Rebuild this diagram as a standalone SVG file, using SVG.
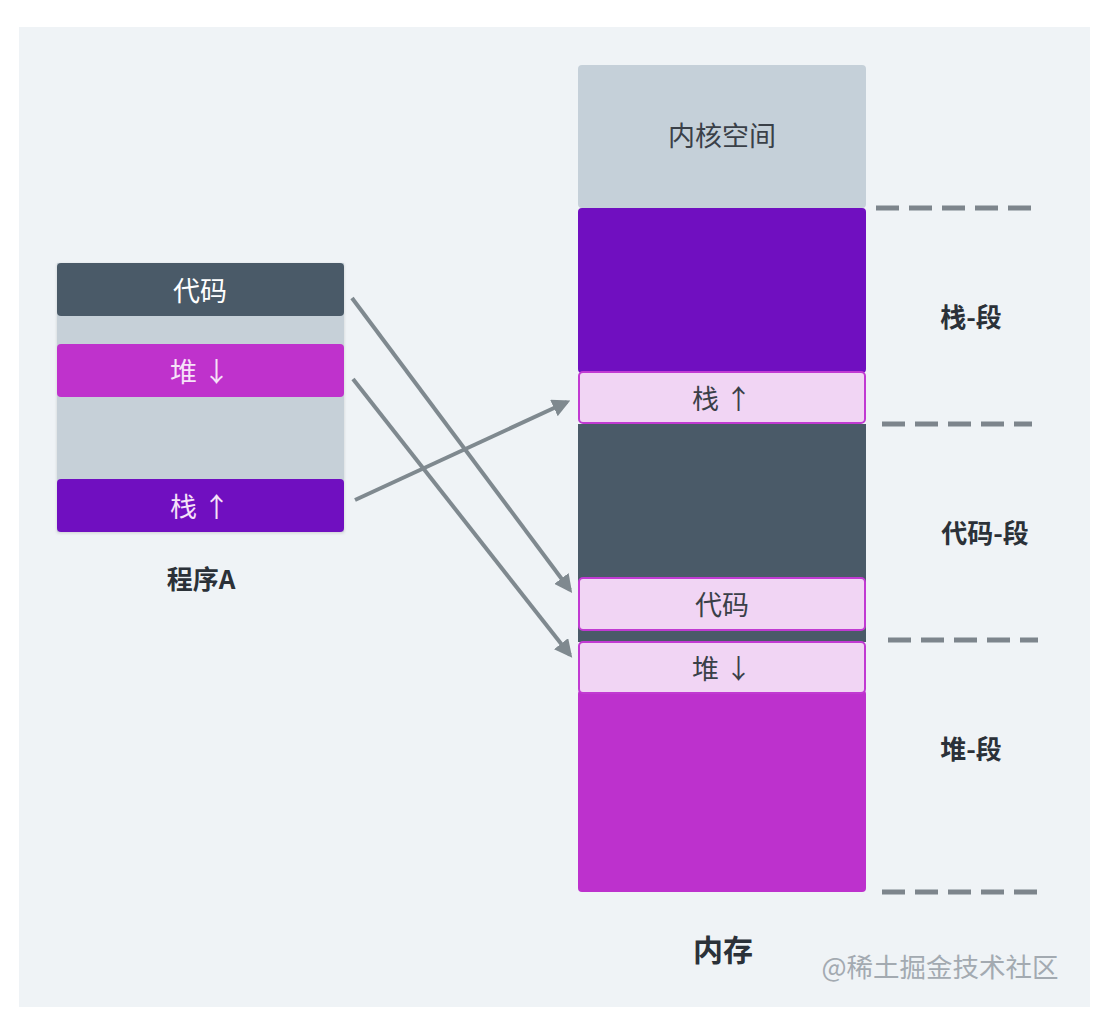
<svg xmlns="http://www.w3.org/2000/svg" width="1102" height="1031" viewBox="0 0 1102 1031">
<style>
text{font-family:"Noto Sans CJK SC","Noto Sans",sans-serif;text-anchor:middle;dominant-baseline:central}
.w{fill:#ffffff;font-size:27px}
.p{fill:#f6e2f8;font-size:27px}
.d{fill:#3a4048;font-size:27px}
.b{fill:#2b3138;font-size:26px;font-weight:bold}
.light{fill:#f1d5f4;stroke:#c13ad2;stroke-width:2}
.dash{stroke:#7d858c;stroke-width:5;stroke-dasharray:23 10;fill:none}
.conn{stroke:#7f898f;stroke-width:4;fill:none}
</style>
<defs>
<marker id="ah" viewBox="0 0 10 10" refX="8" refY="5" markerWidth="4.5" markerHeight="4.5" orient="auto" markerUnits="strokeWidth">
<path d="M0,0 L10,5 L0,10 z" fill="#7f898f"/>
</marker>
<filter id="sh" x="-5%" y="-5%" width="110%" height="115%">
<feDropShadow dx="0" dy="1" stdDeviation="1.5" flood-color="#000" flood-opacity="0.15"/>
</filter>
</defs>
<rect x="0" y="0" width="1102" height="1031" fill="#ffffff"/>
<rect x="19" y="27" width="1071" height="980" fill="#eff3f6"/>

<g id="programA">
<rect x="57" y="263" width="287" height="269" fill="#c6d0d8" filter="url(#sh)"/>
<g id="a-code"><rect x="57" y="263" width="287" height="53" rx="4" fill="#4a5a68"/><text class="w" x="200" y="289">代码</text></g>
<g id="a-heap"><rect x="57" y="344" width="287" height="53" rx="4" fill="#bf32cc"/><text class="p" x="200" y="370">堆 ↓</text></g>
<g id="a-stack"><rect x="57" y="479" width="287" height="53" rx="4" fill="#700fc0"/><text class="p" x="200" y="505">栈 ↑</text></g>
<text class="b" x="201" y="577">程序A</text>
</g>

<g id="memory">
<g id="kernel"><rect x="578" y="65" width="288" height="143" rx="4" fill="#c5d0d9"/><text class="d" x="722" y="134">内核空间</text></g>
<g id="stack-seg"><rect x="578" y="208" width="288" height="165" rx="4" fill="#700fc0"/></g>
<g id="m-stack"><rect class="light" x="579" y="372" width="286" height="51" rx="4"/><text class="d" x="722" y="397">栈 ↑</text></g>
<g id="code-seg"><rect x="578" y="424" width="288" height="218" fill="#4a5a68"/></g>
<g id="m-code"><rect class="light" x="579" y="578" width="286" height="52" rx="4"/><text class="d" x="722" y="603">代码</text></g>
<g id="heap-seg"><rect x="578" y="690" width="288" height="202" rx="4" fill="#bd31cd"/></g>
<g id="m-heap"><rect class="light" x="579" y="642" width="286" height="51" rx="4"/><text class="d" x="722" y="667">堆 ↓</text></g>
<text class="b" x="723" y="948" style="font-size:30px">内存</text>
</g>

<g id="dividers">
<line class="dash" x1="876" y1="208" x2="1032" y2="208"/>
<line class="dash" x1="882" y1="424" x2="1032" y2="424"/>
<line class="dash" x1="888" y1="640" x2="1038" y2="640"/>
<line class="dash" x1="882" y1="892" x2="1038" y2="892"/>
</g>

<g id="labels">
<text class="b" x="971" y="315">栈-段</text>
<text class="b" x="985" y="531">代码-段</text>
<text class="b" x="971" y="747">堆-段</text>
</g>

<g id="connectors">
<line class="conn" x1="352" y1="298" x2="570" y2="590" marker-end="url(#ah)"/>
<line class="conn" x1="353" y1="379" x2="570" y2="655" marker-end="url(#ah)"/>
<line class="conn" x1="355" y1="500" x2="567" y2="402" marker-end="url(#ah)"/>
</g>

<text x="940" y="965" style="font-size:26.5px;fill:#a3aab1">@稀土掘金技术社区</text>
</svg>
